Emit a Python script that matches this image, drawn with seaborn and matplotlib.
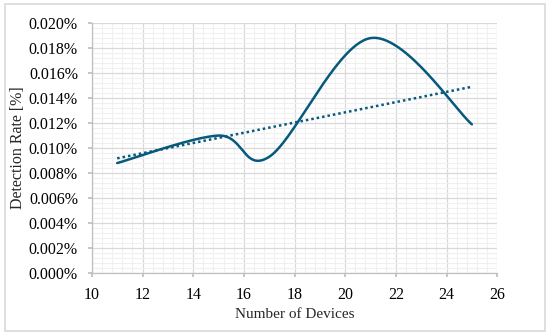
import numpy as np
import matplotlib
matplotlib.use("Agg")
import matplotlib.pyplot as plt
import seaborn as sns
from matplotlib.ticker import MultipleLocator, FuncFormatter
from matplotlib.patches import Rectangle

# data
devices = [11, 15, 17, 21, 25]
detection_rate = [0.0088, 0.0110, 0.0093, 0.0188, 0.0119]  # in %

x_ticks = [10, 12, 14, 16, 18, 20, 22, 24, 26]

line_col = "#06597c"

sns.set_theme(style="white")
plt.rcParams['font.family'] = ['Liberation Serif', 'DejaVu Serif']


def excel_smooth(xs, ys, xr, yr, n=60):
    # bezier smoothing like the "smoothed line" option, done in axis-fraction space
    px = (np.asarray(xs, float) - xr[0]) / (xr[1] - xr[0])
    py = (np.asarray(ys, float) - yr[0]) / (yr[1] - yr[0])
    pts = np.column_stack([px, py])
    out = [pts[0]]
    for i in range(len(pts) - 1):
        p0 = pts[i - 1] if i > 0 else pts[i]
        p1, p2 = pts[i], pts[i + 1]
        p3 = pts[i + 2] if i + 2 < len(pts) else pts[i + 1]
        c1 = p1 + (p2 - p0) / 6
        c2 = p2 - (p3 - p1) / 6
        t = np.linspace(0, 1, n)[1:, None]
        seg = ((1 - t) ** 3) * p1 + 3 * ((1 - t) ** 2) * t * c1 + 3 * (1 - t) * t ** 2 * c2 + t ** 3 * p2
        out.extend(seg)
    out = np.array(out)
    return out[:, 0] * (xr[1] - xr[0]) + xr[0], out[:, 1] * (yr[1] - yr[0]) + yr[0]


xr = (10, 26)
yr = (0, 0.020)

fig = plt.figure(figsize=(5.5, 3.35), dpi=100)
fig.patches.append(Rectangle((0.009, 0.012), 0.982, 0.976, transform=fig.transFigure,
                             fill=False, edgecolor="#d9d9d9", linewidth=1.2))
ax = fig.add_axes([0.167, 0.185, 0.737, 0.746])

sx, sy = excel_smooth(devices, detection_rate, xr, yr)
sns.lineplot(x=sx, y=sy, ax=ax, color=line_col, linewidth=1.8, sort=False)

# linear trendline
k, b = np.polyfit(devices, detection_rate, 1)
tx = np.array([devices[0], devices[-1]])
sns.lineplot(x=tx, y=k * tx + b, ax=ax, color=line_col, linewidth=1.8,
             linestyle=(0, (1, 1.2)))

ax.set_xlim(*xr)
ax.set_ylim(*yr)
ax.set_xticks(x_ticks)
ax.yaxis.set_major_locator(MultipleLocator(0.002))
ax.xaxis.set_minor_locator(MultipleLocator(0.4))
ax.yaxis.set_minor_locator(MultipleLocator(0.0004))
ax.yaxis.set_major_formatter(FuncFormatter(lambda v, p: f"{v:.3f}%"))

ax.grid(which="major", color="#d9d9d9", linewidth=0.9)
ax.grid(which="minor", color="#f0f0f0", linewidth=0.8)
ax.set_axisbelow(True)
for s in ["top", "right"]:
    ax.spines[s].set_visible(False)
for s in ["left", "bottom"]:
    ax.spines[s].set_color("#bfbfbf")
    ax.spines[s].set_linewidth(0.9)
ax.tick_params(which="major", length=3, color="#bfbfbf", labelsize=11.5,
               labelcolor="#000000", left=True, bottom=True)
ax.tick_params(axis="x", which="major", pad=7)
ax.tick_params(axis="y", which="major", pad=7)
ax.tick_params(which="minor", length=0)

ax.set_xlabel("Number of Devices", fontsize=11, labelpad=4)
ax.set_ylabel("Detection Rate [%]", fontsize=11.5, labelpad=2)

fig.savefig("out.png", dpi=100)
